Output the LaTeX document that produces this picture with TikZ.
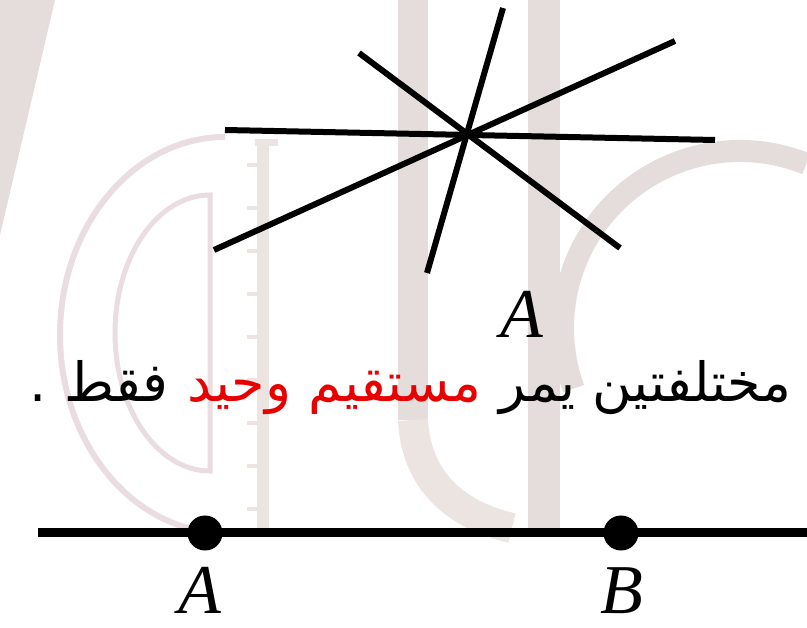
\documentclass[tikz,border=0pt]{standalone}
\usepackage{fontspec}
\usetikzlibrary{positioning}
\newfontfamily\arabicfont[Script=Arabic]{DejaVu Sans}
\newfontfamily\labelfont{Liberation Serif}
\TeXXeTstate=1
\definecolor{wmgray}{RGB}{229,220,220}
\definecolor{wmlight}{RGB}{235,228,224}
\definecolor{wmpink}{RGB}{234,221,225}
\definecolor{textred}{RGB}{232,0,0}

\begin{document}
\begin{tikzpicture}[x=1pt, y=-1pt,
    wm/.style = {draw=wmgray, line width=#1}, wm/.default=6pt,
    line/.style = {line width=6pt},
    dot/.style = {circle, fill, inner sep=0pt, minimum size=35pt},
    lbl/.style = {font=\labelfont\itshape\fontsize{70}{70}\selectfont, inner sep=0pt},
    rule/.style = {font=\arabicfont\fontsize{54}{60}\selectfont, inner sep=0pt}]
    \useasboundingbox (0,0) rectangle (807,628);
    \fill[white] (0,0) rectangle (807,628);

    % watermark
    \fill[wmgray] (0,0) -- (55,0) -- (0,235) -- cycle;
    \draw[wm, draw=wmpink] (225,533) arc[start angle=90, end angle=270, x radius=165, y radius=198];
    \draw[wm=5pt, draw=wmpink] (210,471) arc[start angle=90, end angle=270, x radius=95, y radius=138] -- cycle;
    \draw[wm=12pt, draw=wmlight] (263,140) -- (263,530);
    \draw[wm=7pt, draw=wmlight] (255,143) -- (278,143);
    \foreach \ty in {165,208,...,510}
        \draw[wm=4pt, draw=wmlight] (247,\ty) -- (258,\ty);
    \draw[wm=30pt] (413,-5) -- (413,420);
    \draw[wm=30pt, draw=wmlight] (413,420) .. controls (416,480) and (455,515) .. (512,528);
    \draw[wm=32pt] (544,-5) -- (544,528);
    \draw[wm=22pt] (740,328) ++(-68:177) arc[start angle=-68, end angle=-200, radius=177];

    % lines through one point
    \coordinate (h1) at (225,130); \coordinate (h2) at (715,140);
    \coordinate (s1) at (503,8);   \coordinate (s2) at (427,273);
    \coordinate (d1) at (359,53);  \coordinate (d2) at (620,248);
    \coordinate (u1) at (214,250); \coordinate (u2) at (675,41);
    \draw[line] (h1) -- (h2);
    \draw[line] (s1) -- (s2);
    \draw[line] (d1) -- (d2);
    \draw[line] (u1) -- (u2);
    \node[lbl, anchor=base] (topA) at (522,338) {A};

    \node[rule, anchor=base east] (run1) at (792,402) {\beginR مختلفتين يمر\endR};
    \node[rule, text=textred] (run2) [base left=18pt of run1] {\beginR مستقيم وحيد\endR};
    \node[rule] (run3) [base left=18pt of run2] {\beginR فقط .\endR};

    % line through two points
    \coordinate (west) at (38,533); \coordinate (east) at (807,533);
    \draw[line width=9pt] (west) -- (east);
    \node[dot] (ptA) at (205,533) {};
    \node[dot] (ptB) at (621,533) {};
    \node[lbl, anchor=base] (labA) at (200,613) {A};
    \node[lbl, anchor=base] (labB) at (622,613) {B};
\end{tikzpicture}
\end{document}
